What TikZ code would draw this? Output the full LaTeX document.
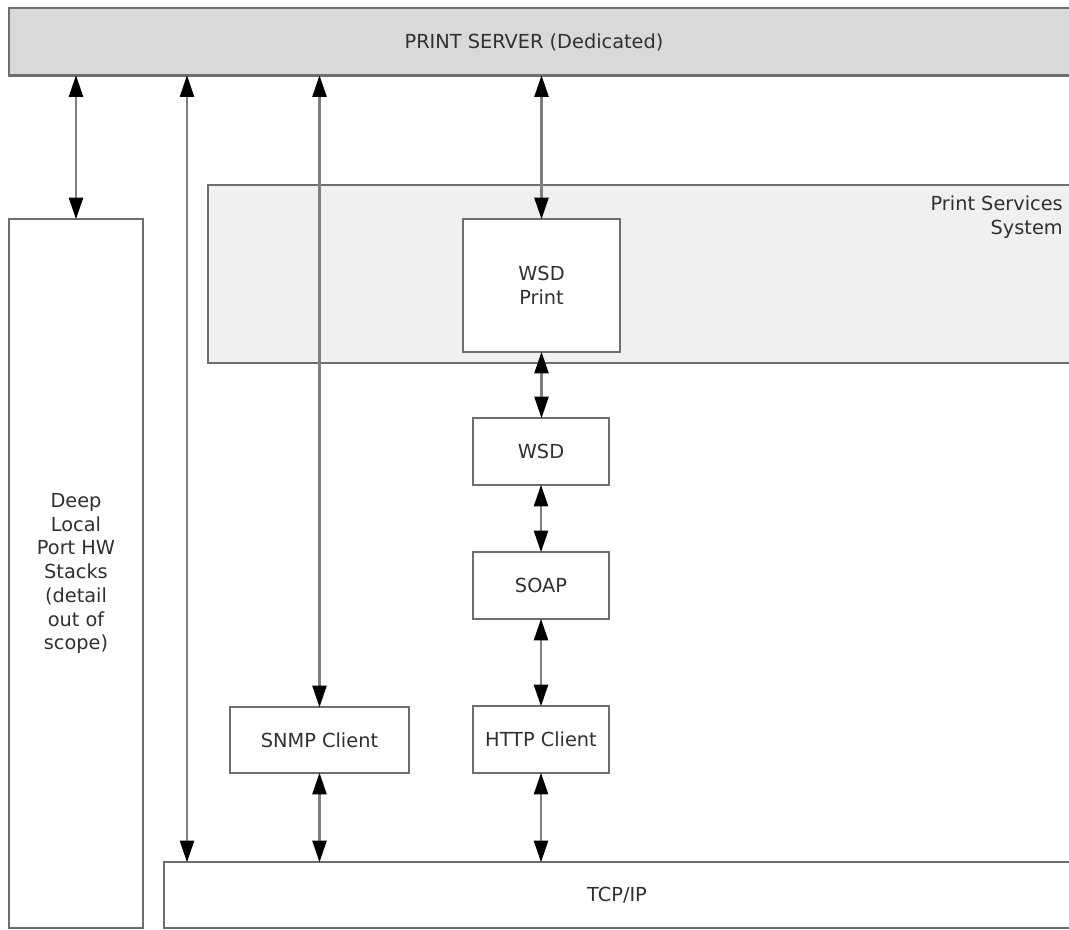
\documentclass[tikz,border=0pt]{standalone}
\usepackage{fontspec}
\setmainfont{DejaVu Sans}
\usetikzlibrary{arrows.meta}
\definecolor{bordergray}{HTML}{6E6E6E}
\definecolor{linegray}{HTML}{7F7F7F}
\definecolor{txt}{HTML}{303030}
\definecolor{serverfill}{HTML}{D9D9D9}
\definecolor{psfill}{HTML}{F0F0F0}
\begin{document}
\begin{tikzpicture}[x=0.75pt,y=-0.75pt,
  lbl/.style={text=txt, inner sep=0pt, align=center, font=\fontsize{14.5}{17.8}\selectfont},
  box/.style={lbl, draw=bordergray, line width=2pt, fill=white, outer sep=0pt, anchor=north west},
  link/.style={draw=linegray, line width=2pt,
    {Triangle[length=16pt,width=11pt,color=black,line width=0pt]}-{Triangle[length=16pt,width=11pt,color=black,line width=0pt]}}]
\useasboundingbox (0,0) rectangle (1069,929);
\clip (0,0) rectangle (1069,929);

% boxes
\node[box, fill=serverfill, minimum width={1075*0.75pt}, minimum height={67.5*0.75pt}] (server) at (9,8) {};
\node[lbl] (serverlabel) at (534,42) {PRINT SERVER (Dedicated)};

\node[box, fill=psfill, minimum width={880*0.75pt}, minimum height={178*0.75pt}] (ps) at (208,185) {};
\node[lbl, anchor=north east, align=right] (pslabel) at (1063,196) {Print Services\\System};

\node[box, minimum width={134*0.75pt}, minimum height={709*0.75pt}] (deep) at (9,219)
  {Deep\\Local\\Port HW\\Stacks\\(detail\\out of\\scope)};

\node[box, minimum width={157*0.75pt}, minimum height={133*0.75pt}] (wsdprint) at (463,219) {WSD\\Print};
\node[box, minimum width={136*0.75pt}, minimum height={67*0.75pt}] (wsd) at (473,418) {WSD};
\node[box, minimum width={136*0.75pt}, minimum height={67*0.75pt}] (soap) at (473,552) {SOAP};
\node[box, minimum width={136*0.75pt}, minimum height={67*0.75pt}] (http) at (473,706) {HTTP Client};
\node[box, minimum width={179*0.75pt}, minimum height={66*0.75pt}] (snmp) at (230,707) {SNMP Client};

\node[box, minimum width={920*0.75pt}, minimum height={66*0.75pt}] (tcp) at (164,862) {};
\node[lbl] (tcplabel) at (617,895) {TCP/IP};

\coordinate (direct) at (187,0);

% connectors
\draw[link] (server.south -| deep.north) -- (deep.north);
\draw[link] (server.south -| direct) -- (tcp.north -| direct);
\draw[link] (server.south -| snmp.north) -- (snmp.north);
\draw[link] (server.south -| wsdprint.north) -- (wsdprint.north);
\draw[link] (wsdprint.south) -- (wsdprint.south |- wsd.north);
\draw[link] (wsd.south) -- (soap.north);
\draw[link] (soap.south) -- (http.north);
\draw[link] (http.south) -- (tcp.north -| http.south);
\draw[link] (snmp.south) -- (tcp.north -| snmp.south);
\end{tikzpicture}
\end{document}
